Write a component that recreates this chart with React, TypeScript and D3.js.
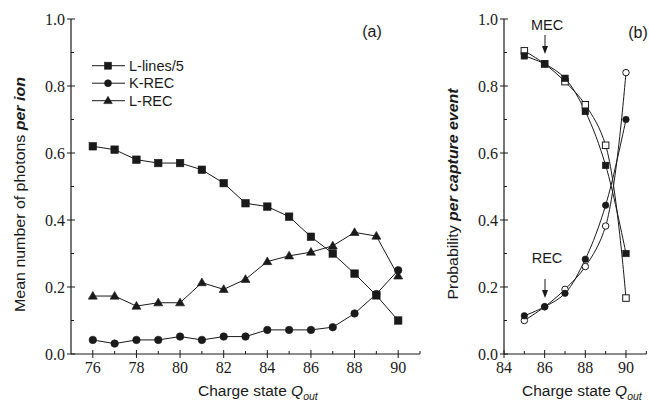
import React, { useLayoutEffect, useRef, useState } from "react";
import * as d3 from "d3";

// Panel (a): mean photon yield per ion versus outgoing charge state
const chargeA = [76, 77, 78, 79, 80, 81, 82, 83, 84, 85, 86, 87, 88, 89, 90];
const lLines5 = [0.62, 0.61, 0.58, 0.57, 0.57, 0.55, 0.51, 0.45, 0.44, 0.41, 0.35, 0.30, 0.24, 0.175, 0.10];
const kRec = [0.042, 0.031, 0.042, 0.042, 0.052, 0.042, 0.052, 0.052, 0.072, 0.072, 0.072, 0.08, 0.121, 0.179, 0.25];
const lRec = [0.173, 0.173, 0.143, 0.153, 0.153, 0.213, 0.193, 0.223, 0.276, 0.293, 0.304, 0.323, 0.363, 0.352, 0.233];

// Panel (b): probability per capture event (two determinations each)
const chargeB = [85, 86, 87, 88, 89, 90];
const mecFilled = [0.89, 0.866, 0.823, 0.724, 0.563, 0.30];
const mecOpen = [0.905, 0.866, 0.813, 0.744, 0.623, 0.167];
const recFilled = [0.114, 0.141, 0.181, 0.283, 0.444, 0.70];
const recOpen = [0.10, 0.141, 0.193, 0.261, 0.382, 0.84];

const legendLabels = ["L-lines/5", "K-REC", "L-REC"];
const yTicks = [0, 0.2, 0.4, 0.6, 0.8, 1.0];
const yMinor = [0.1, 0.3, 0.5, 0.7, 0.9];
const xTicksA = [76, 78, 80, 82, 84, 86, 88, 90];
const xMinorA = [77, 79, 81, 83, 85, 87, 89, 91];
const xTicksB = [84, 86, 88, 90];
const xMinorB = [85, 87, 89, 91];

const SANS = "'Liberation Sans', Arial, sans-serif";
const SERIF = "'Liberation Serif', 'Times New Roman', serif";
const INK = "#1a1a1a";

type Shape = "square" | "circle" | "triangle";

function Marker({ x, y, shape, size, open }: { x: number; y: number; shape: Shape; size: number; open?: boolean }) {
  const fill = open ? "#fff" : INK;
  const sw = open ? 1 : 0.6;
  if (shape === "square")
    return <rect x={x - size / 2} y={y - size / 2} width={size} height={size} fill={fill} stroke={INK} strokeWidth={sw} />;
  if (shape === "circle") return <circle cx={x} cy={y} r={size / 2} fill={fill} stroke={INK} strokeWidth={sw} />;
  const h = size * 0.86;
  const pts = `${x},${y - h * 0.6} ${x - size / 2},${y + h * 0.4} ${x + size / 2},${y + h * 0.4}`;
  return <polygon points={pts} fill={fill} stroke={INK} strokeWidth={sw} />;
}

function YAxis({ x, y, labels }: { x: number; y: d3.ScaleLinear<number, number>; labels: boolean }) {
  const [y0, y1] = y.range();
  return (
    <g>
      <line x1={x} x2={x} y1={y0} y2={y1} stroke={INK} strokeWidth={1.2} />
      {yTicks.map((t) => (
        <g key={t}>
          <line x1={x - 4} x2={x + 4} y1={y(t)} y2={y(t)} stroke={INK} strokeWidth={1} />
          {labels && (
            <text x={x - 6} y={y(t)} dy="0.35em" textAnchor="end" fontFamily={SERIF} fontSize={16} fill={INK}>
              {d3.format(".1f")(t)}
            </text>
          )}
        </g>
      ))}
      {yMinor.map((t) => (
        <line key={t} x1={x} x2={x + 3} y1={y(t)} y2={y(t)} stroke={INK} strokeWidth={1} />
      ))}
    </g>
  );
}

function XAxis({ y, x, major, minor }: { y: number; x: d3.ScaleLinear<number, number>; major: number[]; minor: number[] }) {
  const [x0, x1] = x.range();
  return (
    <g>
      <line x1={x0} x2={x1} y1={y} y2={y} stroke={INK} strokeWidth={1.2} />
      {major.map((t) => (
        <g key={t}>
          <line x1={x(t)} x2={x(t)} y1={y - 4} y2={y + 4} stroke={INK} strokeWidth={1} />
          <text x={x(t)} y={y + 19} textAnchor="middle" fontFamily={SERIF} fontSize={16} fill={INK}>
            {t}
          </text>
        </g>
      ))}
      {minor.map((t) => (
        <line key={t} x1={x(t)} x2={x(t)} y1={y - 3} y2={y} stroke={INK} strokeWidth={1} />
      ))}
    </g>
  );
}

function ChargeTitle({ x, y }: { x: number; y: number }) {
  return (
    <text x={x} y={y} fontFamily={SANS} fontSize={15.5} fill={INK}>
      Charge state <tspan fontStyle="italic">Q</tspan>
      <tspan fontStyle="italic" fontSize={10.5} dy={4}>out</tspan>
    </text>
  );
}

// Vertical axis title squeezed along its length to a fixed span
function VTitle({ cx, cy, span, plain, emph }: { cx: number; cy: number; span: number; plain: string; emph: string }) {
  const ref = useRef<SVGTextElement>(null);
  const [k, setK] = useState(1);
  useLayoutEffect(() => {
    if (ref.current) {
      const w = ref.current.getBBox().width;
      if (w > 0) setK(span / w);
    }
  }, [span]);
  return (
    <text
      ref={ref}
      transform={`translate(${cx},${cy}) rotate(-90) scale(${k},1)`}
      textAnchor="middle"
      fontFamily={SANS}
      fontSize={15.5}
      fill={INK}
    >
      {plain}
      <tspan fontWeight="bold" fontStyle="italic">{emph}</tspan>
    </text>
  );
}

export default function App() {
  const xA = d3.scaleLinear().domain([75, 91]).range([71, 420]);
  const xB = d3.scaleLinear().domain([84, 91]).range([504, 646.3]);
  const y = d3.scaleLinear().domain([0, 1]).range([354, 19]);

  const lineA = (vals: number[]) =>
    d3.line<number>().x((_, i) => xA(chargeA[i])).y((v) => y(v))(vals) ?? "";
  const lineB = (vals: number[]) =>
    d3.line<number>().x((_, i) => xB(chargeB[i])).y((v) => y(v)).curve(d3.curveCatmullRom.alpha(0.5))(vals) ?? "";

  const seriesA: { vals: number[]; shape: Shape }[] = [
    { vals: lLines5, shape: "square" },
    { vals: kRec, shape: "circle" },
    { vals: lRec, shape: "triangle" },
  ];
  const sizeA: Record<Shape, number> = { square: 7.5, circle: 7.5, triangle: 9 };

  const seriesB: { vals: number[]; shape: Shape; open: boolean }[] = [
    { vals: mecOpen, shape: "square", open: true },
    { vals: mecFilled, shape: "square", open: false },
    { vals: recOpen, shape: "circle", open: true },
    { vals: recFilled, shape: "circle", open: false },
  ];

  return (
    <div style={{ position: "fixed", left: 0, top: 0 }}>
      <svg width={649} height={401} viewBox="0 0 649 401" style={{ display: "block", background: "#fff" }}>
        <rect width={649} height={401} fill="#fff" />

        {/* Panel (a) */}
        <YAxis x={71} y={y} labels={true} />
        <XAxis y={354} x={xA} major={xTicksA} minor={xMinorA} />
        {seriesA.map((s, k) => (
          <g key={k}>
            <path d={lineA(s.vals)} fill="none" stroke={INK} strokeWidth={1} />
            {s.vals.map((v, i) => (
              <Marker key={i} x={xA(chargeA[i])} y={y(v)} shape={s.shape} size={sizeA[s.shape]} />
            ))}
          </g>
        ))}
        {legendLabels.map((lab, i) => {
          const ly = 65.7 + i * 17.5;
          return (
            <g key={lab}>
              <line x1={92} x2={125} y1={ly} y2={ly} stroke={INK} strokeWidth={1} />
              <Marker x={108} y={ly} shape={seriesA[i].shape} size={seriesA[i].shape === "triangle" ? 8.5 : 7} />
              <text x={129} y={ly} dy="0.35em" fontFamily={SANS} fontSize={14.5} fill={INK}>
                {lab}
              </text>
            </g>
          );
        })}
        <text x={372} y={31} dy="0.35em" textAnchor="middle" fontFamily={SANS} fontSize={16} fill={INK}>
          (a)
        </text>
        <VTitle cx={25} cy={194.5} span={235} plain="Mean number of photons " emph="per ion" />
        <ChargeTitle x={198} y={396} />

        {/* Panel (b) */}
        <YAxis x={504} y={y} labels={true} />
        <XAxis y={354} x={xB} major={xTicksB} minor={xMinorB} />
        {seriesB.map((s, k) => (
          <g key={k}>
            <path d={lineB(s.vals)} fill="none" stroke={INK} strokeWidth={1} />
          </g>
        ))}
        {seriesB.map((s, k) => (
          <g key={k}>
            {s.vals.map((v, i) => (
              <Marker key={i} x={xB(chargeB[i])} y={y(v)} shape={s.shape} size={6.5} open={s.open} />
            ))}
          </g>
        ))}
        <text x={547} y={25} dy="0.35em" textAnchor="middle" fontFamily={SANS} fontSize={14.5} fill={INK}>
          MEC
        </text>
        <line x1={545} x2={545} y1={35} y2={52} stroke={INK} strokeWidth={1} />
        <path d="M542,46 L545,54 L548,46 Z" fill={INK} />
        <text x={547} y={258} dy="0.35em" textAnchor="middle" fontFamily={SANS} fontSize={14.5} fill={INK}>
          REC
        </text>
        <line x1={545} x2={545} y1={279} y2={296} stroke={INK} strokeWidth={1} />
        <path d="M542,290 L545,298 L548,290 Z" fill={INK} />
        <text x={638} y={32} dy="0.35em" textAnchor="middle" fontFamily={SANS} fontSize={16} fill={INK}>
          (b)
        </text>
        <VTitle cx={458} cy={194} span={212} plain="Probability " emph="per capture event" />
        <ChargeTitle x={522} y={396} />
      </svg>
    </div>
  );
}
